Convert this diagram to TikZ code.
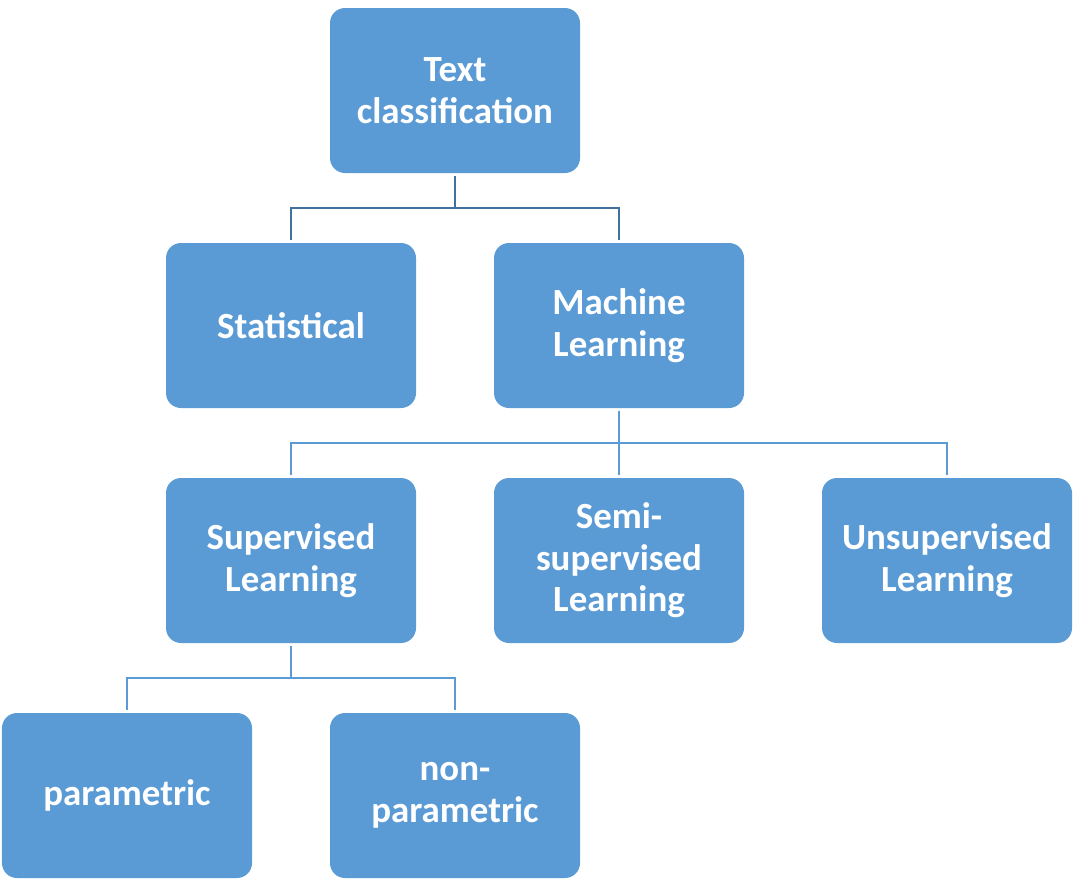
\documentclass[tikz,border=0pt]{standalone}
\usepackage{fontspec}
\setmainfont{Carlito}
\usetikzlibrary{positioning}
\definecolor{BoxBlue}{HTML}{5B9BD5}
\definecolor{LinkBlue}{HTML}{41719C}
\definecolor{LinkLight}{HTML}{5B9BD5}

\begin{document}
\begin{tikzpicture}[
    cls/.style={rectangle,rounded corners=0.3cm,fill=BoxBlue,text=white,
        minimum width=5cm,minimum height=3.3cm,align=center,
        font=\fontsize{21}{23.6}\selectfont\bfseries},
    link/.style={draw=LinkBlue,line width=1.1pt,shorten <=1.5pt,shorten >=1.5pt},
    linklight/.style={link,draw=LinkLight}]
        \useasboundingbox (0,0) rectangle (21.7,-17.74);
        \node[cls] (tc) at (9.1,-1.81) {Text\\classification};
        \node[cls] (stat) at (5.82,-6.51) {Statistical};
        \node[cls] (ml) at (12.38,-6.51) {Machine\\Learning};
        \node[cls] (sup) at (5.82,-11.21) {Supervised\\Learning};
        \node[cls] (semi) at (12.38,-11.21) {Semi-\\supervised\\Learning};
        \node[cls] (unsup) at (18.94,-11.21) {Unsupervised\\Learning};
        \node[cls] (par) at (2.54,-15.91) {parametric};
        \node[cls] (np) at (9.1,-15.91) {non-\\parametric};
        % tree links
        \draw[link] (tc.south) -- ++(0,-0.7) -| (stat.north);
        \draw[link] (tc.south) -- ++(0,-0.7) -| (ml.north);
        \draw[linklight] (ml.south) -- ++(0,-0.7) -| (sup.north);
        \draw[linklight] (ml.south) -- ++(0,-0.7) -| (semi.north);
        \draw[linklight] (ml.south) -- ++(0,-0.7) -| (unsup.north);
        \draw[linklight] (sup.south) -- ++(0,-0.7) -| (par.north);
        \draw[linklight] (sup.south) -- ++(0,-0.7) -| (np.north);
\end{tikzpicture}
\end{document}
